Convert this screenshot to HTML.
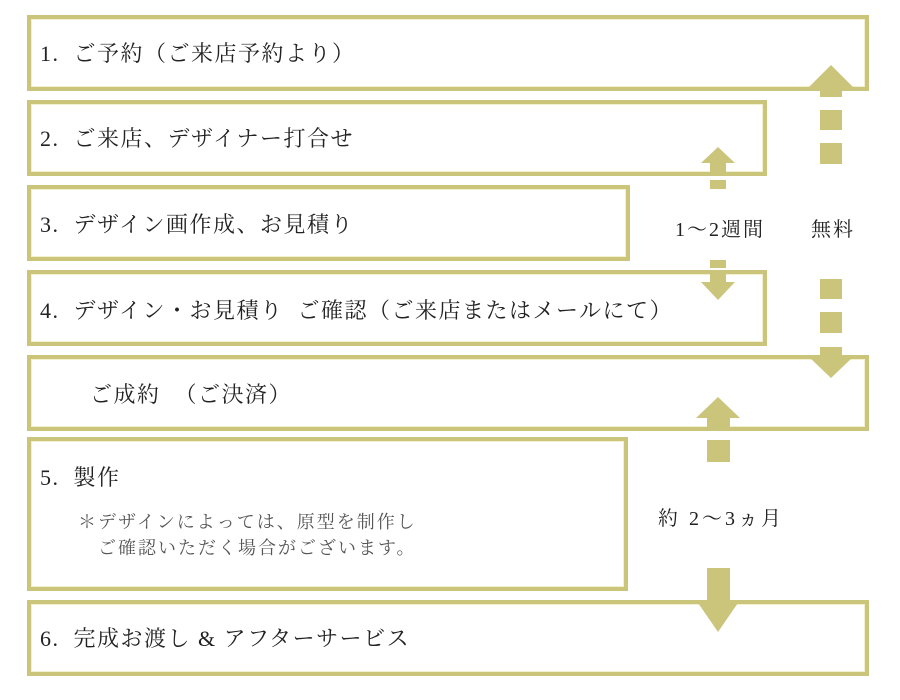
<!DOCTYPE html>
<html><head><meta charset="utf-8"><style>
body{margin:0;width:900px;height:700px;background:#fff;position:relative;overflow:hidden;font-family:"Liberation Serif","Noto Serif CJK JP","Noto Serif CJK SC",serif;color:#222}
.b{position:absolute;border:4px solid #cbc57c;box-sizing:border-box;background:#fff;box-shadow:inset 0 0 0 1px #f3f0cf}
.t{position:absolute;font-size:22px;white-space:nowrap;letter-spacing:1.5px}
.s{position:absolute;font-size:18px;color:#555;white-space:nowrap;line-height:24px;letter-spacing:2px}
svg{position:absolute;left:0;top:0}
</style></head><body>
<div class="b" style="left:27px;top:15px;width:842px;height:76px"></div>
<div class="b" style="left:27px;top:100px;width:740px;height:76px"></div>
<div class="b" style="left:27px;top:185px;width:603px;height:76px"></div>
<div class="b" style="left:27px;top:270px;width:740px;height:76px"></div>
<div class="b" style="left:27px;top:355px;width:842px;height:76px"></div>
<div class="b" style="left:27px;top:437px;width:601px;height:154px"></div>
<div class="b" style="left:27px;top:600px;width:842px;height:76px"></div>

<div class="t" style="left:40px;top:37px">1.&nbsp; ご予約（ご来店予約より）</div>
<div class="t" style="left:40px;top:122px">2.&nbsp; ご来店、デザイナー打合せ</div>
<div class="t" style="left:40px;top:208px">3.&nbsp; デザイン画作成、お見積り</div>
<div class="t" style="left:40px;top:294px">4.&nbsp; デザイン・お見積り&nbsp; ご確認（ご来店またはメールにて）</div>
<div class="t" style="left:90px;top:378px">ご成約&nbsp; （ご決済）</div>
<div class="t" style="left:40px;top:461px">5.&nbsp; 製作</div>
<div class="s" style="left:78px;top:510px">＊デザインによっては、原型を制作し</div>
<div class="s" style="left:98px;top:536px">ご確認いただく場合がございます。</div>
<div class="t" style="left:40px;top:622px">6.&nbsp; 完成お渡し &amp; アフターサービス</div>

<div class="t" style="left:675px;top:213px;font-size:20px;letter-spacing:2px">1～2週間</div>
<div class="t" style="left:811px;top:213px;font-size:20px;letter-spacing:2px">無料</div>
<div class="t" style="left:658px;top:502px;font-size:20px;letter-spacing:3px">約 2～3ヵ月</div>

<svg width="900" height="700" fill="#cbc57c">
<polygon points="831,65 853,87 809,87"/>
<rect x="820" y="87" width="22" height="10"/>
<rect x="820" y="110" width="22" height="20"/>
<rect x="820" y="143" width="22" height="21"/>
<rect x="820" y="279" width="22" height="20"/>
<rect x="820" y="312" width="22" height="21"/>
<rect x="820" y="347" width="22" height="10"/>
<polygon points="809,357 853,357 831,378"/>
<polygon points="718,147 735,163 701,163"/>
<rect x="710" y="163" width="16" height="9"/>
<rect x="710" y="180" width="16" height="9"/>
<rect x="710" y="260" width="16" height="8"/>
<rect x="710" y="272" width="16" height="10"/>
<polygon points="701,282 735,282 718,300"/>
<polygon points="718,397 740,418 696,418"/>
<rect x="707" y="418" width="23" height="12"/>
<rect x="707" y="440" width="23" height="22"/>
<rect x="707" y="568" width="23" height="22"/>
<rect x="707" y="590" width="23" height="10"/>
<polygon points="696,600 740,600 718,632"/>
</svg>
</body></html>
